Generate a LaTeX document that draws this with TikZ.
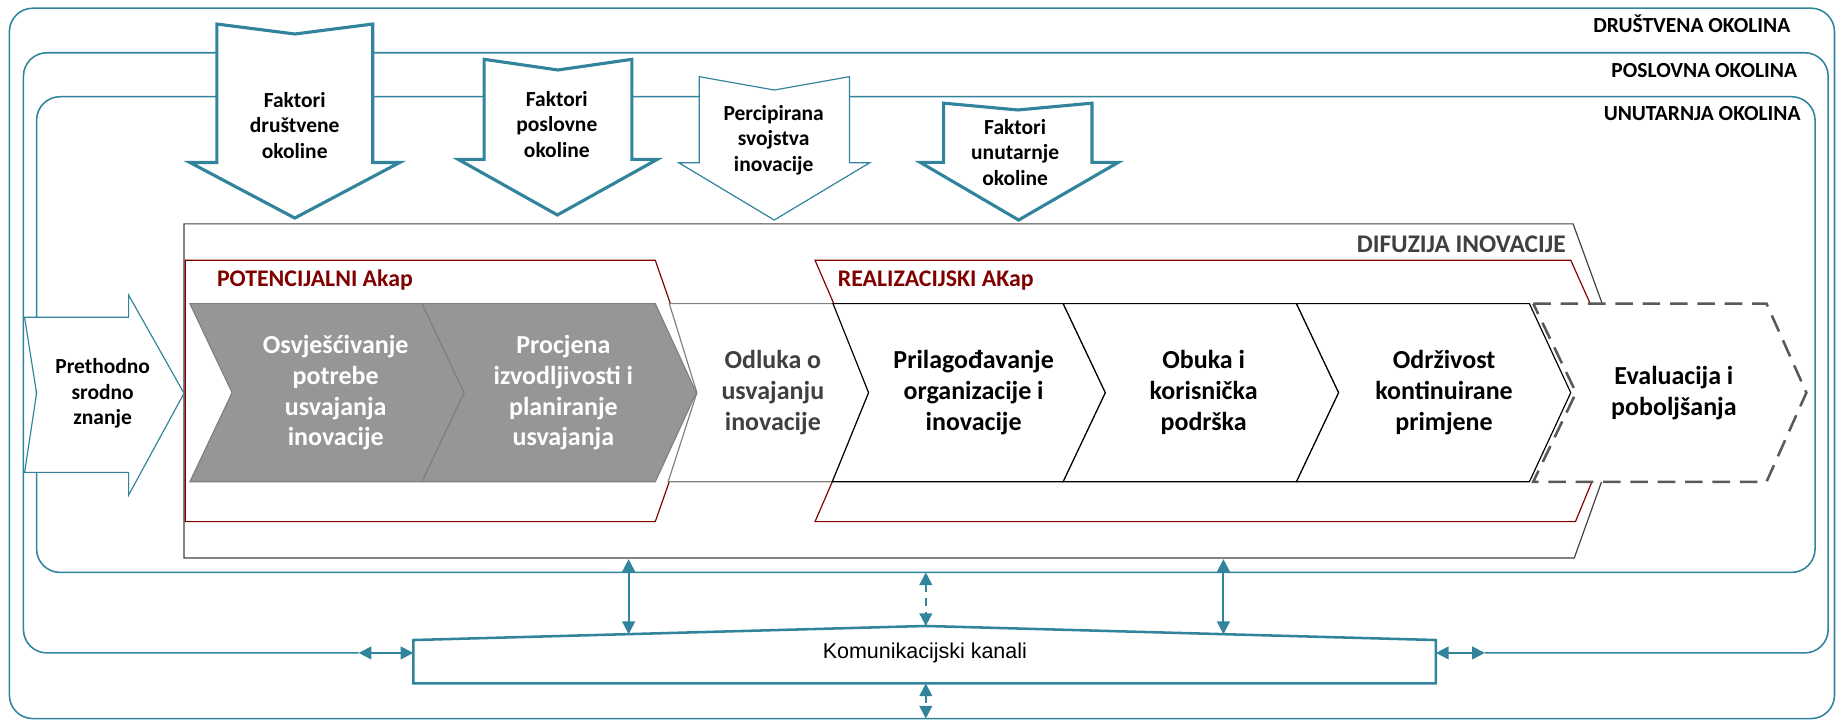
\documentclass[tikz,border=0pt]{standalone}
\usepackage{fontspec}
\setmainfont{Carlito}
\newfontfamily\arialfont{Liberation Sans}
\usetikzlibrary{arrows.meta}
\definecolor{envteal}{RGB}{49,132,155}
\definecolor{akapred}{RGB}{128,0,0}
\definecolor{stepgray}{RGB}{150,150,150}
\definecolor{difgray}{RGB}{64,64,64}
\definecolor{evalgray}{RGB}{89,89,89}

\begin{document}
\begin{tikzpicture}[x=0.6pt, y=-0.6pt,
  envframe/.style={draw=envteal, line width=0.8pt, rounded corners=12pt},
  envlabel/.style={font=\bfseries\fontsize{11}{13}\selectfont, anchor=base east, inner sep=0pt},
  factorarrow/.style={draw=envteal, fill=white, line width=1.6pt},
  factortext/.style={font=\bfseries\fontsize{11}{13}\selectfont, align=center},
  stepbox/.style={draw=black, fill=white, line width=0.6pt},
  steptext/.style={font=\bfseries\fontsize{13.3}{15.8}\selectfont, align=center},
  akapframe/.style={draw=akapred, line width=0.6pt},
  akaplabel/.style={font=\bfseries\fontsize{12.2}{14}\selectfont, text=akapred, anchor=base west, inner sep=0pt},
  linkarrow/.style={draw=envteal, line width=1pt, {Triangle[length=6.5pt,width=6.5pt]}-{Triangle[length=6.5pt,width=6.5pt]}}
]
\useasboundingbox (0,0) rectangle (1568,614);

% okoline
\draw[envframe] (8,7) rectangle (1565,613);
\draw[envframe] (306,557) -- (20,557) -- (20,45) -- (1559.6,45) -- (1559.6,557) -- (1266.7,557);
\draw[envframe] (31.2,82.5) rectangle (1548.4,488.3);

\node[envlabel] (ldrustvena) at (1527.6,27.8) {DRUŠTVENA OKOLINA};
\node[envlabel] (lposlovna) at (1533.4,66) {POSLOVNA OKOLINA};
\node[envlabel] (lunutarnja) at (1536.4,103) {UNUTARNJA OKOLINA};

% difuzija inovacije
\draw[draw=difgray, line width=0.6pt] (157,191) -- (1342,191) -- (1394,333.5) -- (1343,476) -- (157,476) -- cycle;
\node[font=\bfseries\fontsize{13}{15}\selectfont, text=difgray, anchor=base east, inner sep=0pt] (ldifuzija) at (1336,215) {DIFUZIJA INOVACIJE};

% akap okviri
\draw[akapframe] (158,222) -- (559,222) -- (598,334) -- (559,445) -- (158,445) -- cycle;
\draw[akapframe] (695.3,222) -- (1340,222) -- (1390,333.5) -- (1344,445) -- (695.3,445) -- (743.5,333.5) -- cycle;
\node[akaplabel] (lpotenc) at (184.8,244.5) {POTENCIJALNI Akap};
\node[akaplabel] (lrealiz) at (714.5,244.5) {REALIZACIJSKI AKap};

% koraci
\draw[stepbox, fill=stepgray, draw=gray] (162,259) -- (360,259) -- (396,335) -- (360,411) -- (162,411) -- (198,335) -- cycle;
\draw[stepbox, fill=stepgray, draw=gray] (360,259) -- (559,259) -- (594,335) -- (559,411) -- (360,411) -- (396,335) -- cycle;
\draw[stepbox, draw=gray] (571,259) -- (712,259) -- (741,335) -- (710,411) -- (570,411) -- (594.5,335) -- cycle;
\draw[stepbox] (710.6,259) -- (907,259) -- (943,335) -- (907,411) -- (710,411) -- (741,335) -- cycle;
\draw[stepbox] (907,259) -- (1106,259) -- (1142,335) -- (1106,411) -- (907,411) -- (943,335) -- cycle;
\draw[stepbox] (1106,259) -- (1304.7,259) -- (1340,335) -- (1304.7,411) -- (1106,411) -- (1142,335) -- cycle;
\draw[stepbox, draw=evalgray, line width=1.3pt, dash pattern=on 9pt off 5pt] (1308,259) -- (1507,259) -- (1541,335) -- (1507,411) -- (1308,411) -- (1344.5,335) -- cycle;

\node[steptext, text=white] (osvj) at (286.4,335) {Osvješćivanje\\potrebe\\usvajanja\\inovacije};
\node[steptext, text=white] (procjena) at (480.6,335) {Procjena\\izvodljivosti i\\planiranje\\usvajanja};
\node[steptext, text=difgray] (odluka) at (659.3,335) {Odluka o\\usvajanju\\inovacije};
\node[steptext] (prilag) at (830.6,335) {Prilagođavanje\\organizacije i\\inovacije};
\node[steptext] (obuka) at (1026.8,335) {Obuka i\\korisnička\\podrška};
\node[steptext] (odrzivost) at (1231.9,335) {Održivost\\kontinuirane\\primjene};
\node[steptext] (evaluacija) at (1428,335) {Evaluacija i\\poboljšanja};

% faktori
\draw[factorarrow] (185,20.5) -- (251.5,29) -- (318,20.5) -- (318,138.6) -- (341,138.6) -- (251.5,186) -- (162,138.6) -- (185,138.6) -- cycle;
\draw[factorarrow] (413,50.6) -- (476,59.7) -- (539,50.6) -- (539,136) -- (560.6,136) -- (475.5,183.4) -- (391,136) -- (413,136) -- cycle;
\draw[factorarrow, line width=0.6pt] (596.5,65.4) -- (660.6,76.8) -- (724.7,65.4) -- (724.7,138.8) -- (742,138.8) -- (660.5,187.7) -- (579,138.8) -- (596.5,138.8) -- cycle;
\draw[factorarrow] (805,88) -- (868.3,93.8) -- (931.6,88) -- (931.6,138.5) -- (954,138.5) -- (869,187.7) -- (785,138.5) -- (805,138.5) -- cycle;

\node[factortext] (fdrustvena) at (251.4,107) {Faktori\\društvene\\okoline};
\node[factortext] (fposlovna) at (475,106) {Faktori\\poslovne\\okoline};
\node[factortext] (fpercip) at (660,119.6) {Percipirana\\svojstva\\inovacije};
\node[factortext] (funutarnja) at (866,130) {Faktori\\unutarnje\\okoline};

% prethodno znanje
\draw[factorarrow, line width=0.6pt] (21,270.7) -- (109.7,270.7) -- (109.7,251.7) -- (157,335.5) -- (109.7,422.4) -- (109.7,403) -- (21,403) -- (31.2,335.5) -- cycle;
\node[factortext] (prethodno) at (87.6,335.5) {Prethodno\\srodno\\znanje};

% komunikacijski kanali
\draw[draw=envteal, line width=1.3pt, fill=white] (352.6,546) -- (789.8,534) -- (1225,546) -- (1225,583) -- (352.6,583) -- cycle;
\node[font=\arialfont\fontsize{11}{13}\selectfont] (kanali) at (789,557) {Komunikacijski kanali};

\coordinate (dif1) at (536.3,477);
\coordinate (kan1) at (536.3,541);
\coordinate (unu2) at (789.8,488.3);
\coordinate (kan2) at (789.8,534);
\coordinate (dif3) at (1043.7,477);
\coordinate (kan3) at (1043.7,541);
\coordinate (kan4) at (789.8,583);
\coordinate (dru4) at (789.8,613);
\coordinate (pos5) at (306,557);
\coordinate (kan5) at (352.6,557);
\coordinate (kan6) at (1225,557);
\coordinate (pos6) at (1266.7,557);

\draw[linkarrow] (dif1) -- (kan1);
\draw[linkarrow, dash pattern=on 4pt off 3pt] (unu2) -- (kan2);
\draw[linkarrow] (dif3) -- (kan3);
\draw[linkarrow, dash pattern=on 4pt off 3pt] (kan4) -- (dru4);
\draw[linkarrow] (pos5) -- (kan5);
\draw[linkarrow] (kan6) -- (pos6);

\end{tikzpicture}
\end{document}
